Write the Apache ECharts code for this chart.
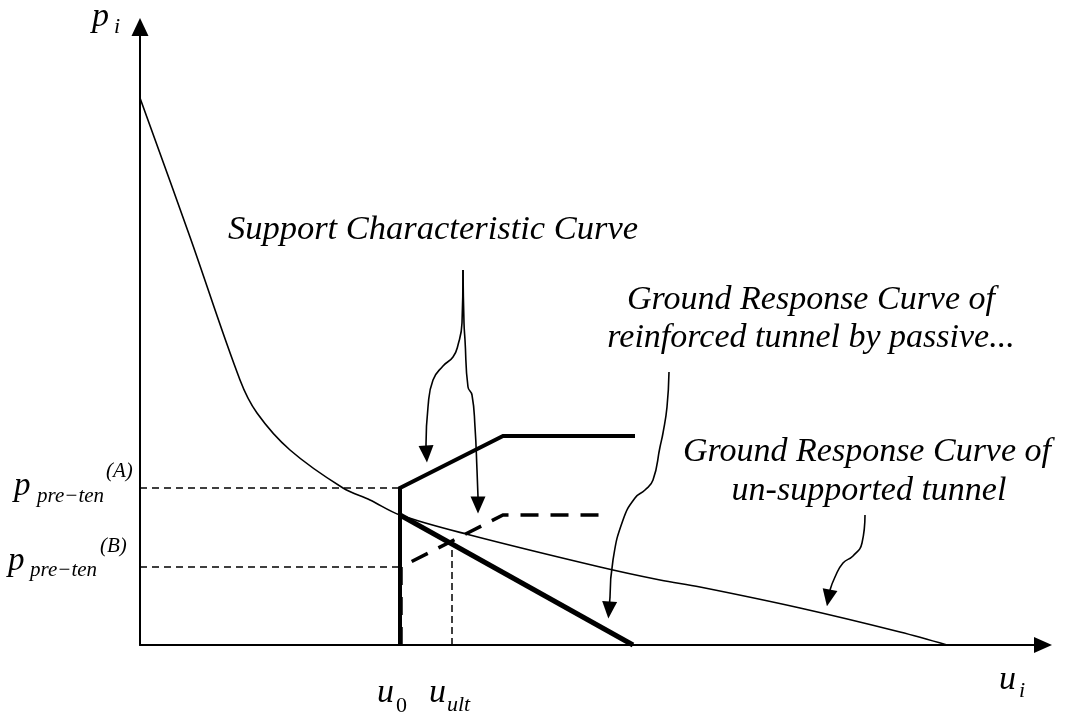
<!DOCTYPE html>
<html>
<head>
<meta charset="utf-8">
<script src="https://cdn.jsdelivr.net/npm/echarts@6/dist/echarts.min.js"></script>
<style>html,body{margin:0;padding:0;background:#fff;}#c{width:1070px;height:719px;}</style>
</head>
<body>
<div id="c"></div>
<script>
// ---- data (schematic units: displacement u_i, pressure p_i) ----
var grcUnsupported = [[0,547],[50,408],[100,265],[117,232],[150,195],[203,157],[230,145],[260,130],[330,110],[460,78],[520,65],[560,58],[660,37],[760,13],[807,0]];
var sccA = [[260,0],[260,157],[363,209],[495,209]];
var sccB = [[261,0],[261,78],[363,130],[468,130]];
var grcReinforced = [[260,130],[493,0]];
var pPreTenA = [[0,157],[260,157]];
var pPreTenB = [[0,78],[260,78]];
var uUlt = [[312,0],[312,103]];
// annotation leader curves
var leaderSccLeft = [[323,375],[322,322],[318,300],[313,288],[303,279],[293,265],[288,238],[286,200]];
var leaderSccRight = [[323,375],[324,322],[325,305],[328,258],[332,250],[335,218],[337,175],[338,148]];
var leaderReinf = [[529,273],[527,238],[523,212],[520,198],[513,165],[505,155],[495,147],[483,125],[473,85],[470,48]];
var leaderUnsup = [[725,130],[722,102],[713,89],[703,82],[695,68],[690,55]];
// arrowheads (from, to) -- "to" is arrowhead centre
var arrowHeads = [
  [[286,200],[286.5,191]],
  [[338,148],[338,140]],
  [[470,48],[469,35]],
  [[690,55],[688.5,47]]
];
var axisNames = {x: 'u', xSub: 'i', y: 'p', ySub: 'i'};

var chart = echarts.init(document.getElementById('c'));
var F = '"Liberation Serif", "DejaVu Serif", serif';
function lineS(data, w, type, smooth) {
  return {type:'line', data:data, showSymbol:false, symbol:'none', smooth:smooth||false, clip:false,
    lineStyle:{color:'#000', width:w, type:type||'solid', join:'miter', cap:'butt'}, silent:true, animation:false};
}
var series = [
  lineS(grcUnsupported, 1.6, 'solid', 0.35),
  lineS(pPreTenA, 1.5, [7,5]),
  lineS(pPreTenB, 1.5, [7,5]),
  lineS(uUlt, 1.5, [7,4]),
  lineS(sccB, 3.5, [18,12]),
  lineS(sccA, 4),
  lineS(grcReinforced, 5),
  lineS(leaderSccLeft, 1.6, 'solid', 0.5),
  lineS(leaderSccRight, 1.6, 'solid', 0.5),
  lineS(leaderReinf, 1.6, 'solid', 0.5),
  lineS(leaderUnsup, 1.6, 'solid', 0.5),
  {type:'lines', coordinateSystem:'cartesian2d', silent:true, animation:false,
   symbol:['none','triangle'], symbolSize:[[15,17],[15,17]],
   lineStyle:{color:'#000', width:1.6, opacity:1},
   data: arrowHeads.map(function(c){return {coords:c};})}
];
function txt(s, x, y, size, align, italic) {
  return {type:'text', x:x, y:y, silent:true, style:{text:s, fill:'#000',
    font:(italic===false?'':'italic ')+size+'px '+F, align:align||'left', verticalAlign:'middle',
    textAlign:align||'left', textVerticalAlign:'middle'}};
}
var graphics = [
  txt(axisNames.y, 92, 17.5, 34), txt(axisNames.ySub, 114, 27.5, 22),
  txt(axisNames.x, 999, 680.5, 34), txt(axisNames.xSub, 1019, 691.5, 22),
  txt('u', 377, 693.5, 34), txt('0', 396, 706.5, 22, 'left', false),
  txt('u', 429, 693.5, 34), txt('ult', 447, 705.5, 22),
  txt('p', 14, 486, 33), txt('pre\u2212ten', 37, 496, 21), txt('(A)', 106, 471, 21),
  txt('p', 8, 561, 33), txt('pre\u2212ten', 30, 570, 21), txt('(B)', 100, 546, 21),
  txt('Support Characteristic Curve', 433, 230, 34.5, 'center'),
  txt('Ground Response Curve of', 811, 300, 34, 'center'),
  txt('reinforced tunnel by passive...', 811, 338, 34, 'center'),
  txt('Ground Response Curve of', 867, 452, 34, 'center'),
  txt('un-supported tunnel', 869, 491, 34, 'center')
];
chart.setOption({
  animation:false,
  backgroundColor:'#fff',
  grid:{left:140, right:27, top:27, bottom:74, containLabel:false},
  xAxis:{type:'value', min:0, max:903, splitLine:{show:false}, axisTick:{show:false}, axisLabel:{show:false},
    axisLine:{show:true, onZero:false, symbol:['none','triangle'], symbolSize:[16,18], lineStyle:{color:'#000', width:2}}},
  yAxis:{type:'value', min:0, max:618, splitLine:{show:false}, axisTick:{show:false}, axisLabel:{show:false},
    axisLine:{show:true, onZero:false, symbol:['none','triangle'], symbolSize:[17,18], lineStyle:{color:'#000', width:2}}},
  series:series,
  graphic:graphics
});
</script>
</body>
</html>
